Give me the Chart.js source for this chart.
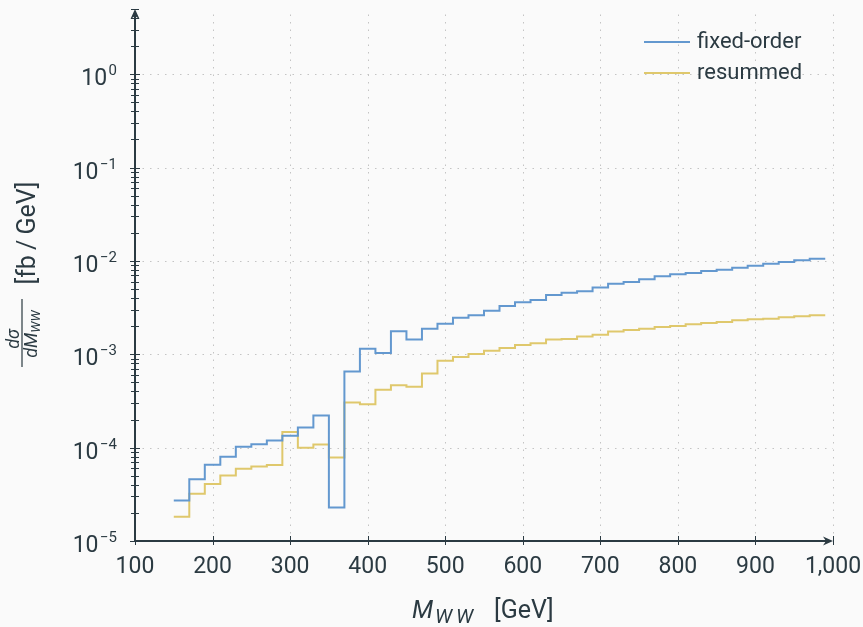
<!DOCTYPE html>
<html>
<head>
<meta charset="utf-8">
<script src="https://cdn.jsdelivr.net/npm/chart.js@4.4.1/dist/chart.umd.min.js"></script>
<style>
html,body{margin:0;padding:0;background:#fafafa;}
canvas{display:block;}
</style>
</head>
<body>
<canvas id="c" width="863" height="627"></canvas>
<script>
// ---- data (bin edges in GeV, values in fb/GeV) ----
const binEdges = [150,170,190,210,230,250,270,290,310,330,350,370,390,410,430,450,470,490,510,530,550,570,590,610,630,650,670,690,710,730,750,770,790,810,830,850,870,890,910,930,950,970,990];
const fixedOrder = [2.72e-5,4.60e-5,6.55e-5,7.98e-5,1.02e-4,1.09e-4,1.19e-4,1.34e-4,1.64e-4,2.21e-4,2.29e-5,6.53e-4,1.15e-3,1.03e-3,1.77e-3,1.44e-3,1.88e-3,2.13e-3,2.47e-3,2.62e-3,2.93e-3,3.29e-3,3.61e-3,3.82e-3,4.32e-3,4.57e-3,4.73e-3,5.20e-3,5.69e-3,5.95e-3,6.35e-3,6.84e-3,7.19e-3,7.43e-3,7.80e-3,8.05e-3,8.46e-3,8.89e-3,9.33e-3,9.73e-3,1.016e-2,1.057e-2];
const resummed = [1.82e-5,3.21e-5,4.07e-5,5.04e-5,5.94e-5,6.29e-5,6.51e-5,1.47e-4,9.96e-5,1.08e-4,7.85e-5,3.04e-4,2.91e-4,4.16e-4,4.67e-4,4.48e-4,6.21e-4,8.55e-4,9.37e-4,1.01e-3,1.09e-3,1.17e-3,1.26e-3,1.31e-3,1.44e-3,1.46e-3,1.55e-3,1.62e-3,1.75e-3,1.82e-3,1.88e-3,1.96e-3,2.01e-3,2.10e-3,2.17e-3,2.22e-3,2.32e-3,2.37e-3,2.41e-3,2.49e-3,2.55e-3,2.62e-3];
const seriesNames = ['fixed-order','resummed'];
const xTickValues = [100,200,300,400,500,600,700,800,900,1000];
const xTickLabels = ['100','200','300','400','500','600','700','800','900','1,000'];
const yTickExponents = [-5,-4,-3,-2,-1,0];
const yMinorMultipliers = [2,3,4,5,6,7,8,9];

// ---- style ----
const F = 'Roboto, "Open Sans", "DejaVu Sans", sans-serif';
const INK = '#2b3a42';
const BLUE = '#6398cf';
const YELLOW = '#dfc86c';

function stepPoints(vals){
  const pts = vals.map((v,i)=>({x:binEdges[i], y:v}));
  pts.push({x:binEdges[binEdges.length-1], y:vals[vals.length-1]});
  return pts;
}

function drawArrow(ctx, tx, ty, dir){
  ctx.save();
  ctx.translate(tx, ty);
  if (dir === 'up') ctx.rotate(-Math.PI/2);
  ctx.beginPath();
  ctx.moveTo(0,0);
  ctx.lineTo(-10,-4.5);
  ctx.lineTo(-7,0);
  ctx.lineTo(-10,4.5);
  ctx.closePath();
  ctx.fill();
  ctx.restore();
}

const deco = {
  id:'deco',
  beforeDraw(chart){
    const c = chart.ctx;
    c.save(); c.fillStyle='#fafafa'; c.fillRect(0,0,chart.width,chart.height); c.restore();
  },
  beforeDatasetsDraw(chart){
    const {ctx, chartArea:a, scales:{x,y}} = chart;
    ctx.save();
    ctx.strokeStyle='#c4c4c4'; ctx.lineWidth=1; ctx.setLineDash([1.5,6]);
    xTickValues.forEach(v=>{
      if (v===x.min) return;
      const px = Math.round(x.getPixelForValue(v))+0.5;
      ctx.beginPath(); ctx.moveTo(px,a.bottom); ctx.lineTo(px,a.top); ctx.stroke();
    });
    yTickExponents.forEach(e=>{
      const v = Math.pow(10,e);
      if (v<=y.min*1.0001) return;
      const py = Math.round(y.getPixelForValue(v))+0.5;
      ctx.beginPath(); ctx.moveTo(a.left,py); ctx.lineTo(a.right,py); ctx.stroke();
    });
    ctx.restore();
  },
  afterDatasetsDraw(chart){
    const {ctx, chartArea:a, scales:{x,y}} = chart;
    ctx.save();
    ctx.strokeStyle=INK; ctx.fillStyle=INK;
    ctx.lineWidth=1;
    xTickValues.forEach(v=>{
      const px = Math.round(x.getPixelForValue(v))+0.5;
      ctx.beginPath(); ctx.moveTo(px,a.bottom-5); ctx.lineTo(px,a.bottom+4); ctx.stroke();
    });
    yTickExponents.forEach(e=>{
      const py = Math.round(y.getPixelForValue(Math.pow(10,e)))+0.5;
      ctx.beginPath(); ctx.moveTo(a.left-5,py); ctx.lineTo(a.left+5,py); ctx.stroke();
      yMinorMultipliers.forEach(m=>{
        const v = m*Math.pow(10,e);
        if (v>y.max*1.0001) return;
        const pm = Math.round(y.getPixelForValue(v))+0.5;
        ctx.beginPath(); ctx.moveTo(a.left-4,pm); ctx.lineTo(a.left+4,pm); ctx.stroke();
      });
    });
    ctx.lineWidth=2;
    ctx.beginPath(); ctx.moveTo(a.left,a.bottom); ctx.lineTo(a.right-6,a.bottom); ctx.stroke();
    ctx.beginPath(); ctx.moveTo(a.left,a.bottom); ctx.lineTo(a.left,a.top+6); ctx.stroke();
    drawArrow(ctx, a.right, a.bottom, 'right');
    drawArrow(ctx, a.left, a.top, 'up');

    // x tick labels
    ctx.font = '23px '+F; ctx.textAlign='center'; ctx.textBaseline='alphabetic';
    xTickValues.forEach((v,i)=>{
      ctx.fillText(xTickLabels[i], x.getPixelForValue(v), 573);
    });
    // y tick labels
    yTickExponents.forEach(e=>{
      const py = y.getPixelForValue(Math.pow(10,e));
      const sup = e<0 ? '\u2212'+Math.abs(e) : String(e);
      ctx.font = '15px '+F;
      const sw = ctx.measureText(sup).width;
      ctx.textAlign='left';
      ctx.fillText(sup, 117-sw, py+1);
      ctx.font = '23px '+F; ctx.textAlign='right';
      ctx.fillText('10', 117-sw-1.5, py+11);
    });

    // x title: M_WW [GeV]
    const xc = (a.left+a.right)/2;
    ctx.textAlign='left';
    ctx.font = 'italic 25px '+F; ctx.fillText('M', xc-72, 618);
    ctx.font = 'italic 20px '+F;
    ctx.fillText('W', xc-49, 623);
    ctx.fillText('W', xc-28, 623);
    ctx.font = '25px '+F; ctx.fillText('[GeV]', xc+10, 618);

    // y title (rotated)
    ctx.save();
    ctx.translate(22, 333);
    ctx.rotate(-Math.PI/2);
    ctx.fillRect(-34, -0.6, 68, 1.2);
    ctx.font = 'italic 18px '+F; ctx.textAlign='center';
    ctx.fillText('d\u03c3', -6, -3);
    ctx.font = 'italic 18px '+F;
    const dW = ctx.measureText('dM').width;
    ctx.font = 'italic 13px '+F;
    const sW = ctx.measureText('WW').width;
    let sx = -1 - (dW+sW)/2;
    ctx.textAlign='left';
    ctx.font = 'italic 18px '+F; ctx.fillText('dM', sx, 15);
    ctx.font = 'italic 13px '+F; ctx.fillText('WW', sx+dW, 18);
    ctx.font = '25px '+F; ctx.textAlign='center';
    ctx.fillText('[fb\u2009/\u2009GeV]', 100, 13);
    ctx.restore();

    // legend
    const colors = [BLUE, YELLOW];
    const rows = [42, 73];
    seriesNames.forEach((n,i)=>{
      ctx.strokeStyle = colors[i]; ctx.lineWidth=2;
      ctx.beginPath(); ctx.moveTo(644, rows[i]); ctx.lineTo(690, rows[i]); ctx.stroke();
      ctx.fillStyle = INK; ctx.font='22px '+F; ctx.textAlign='left';
      ctx.fillText(n, 697, rows[i]+6);
    });
    ctx.restore();
  }
};

new Chart(document.getElementById('c'), {
  type:'line',
  data:{
    datasets:[
      {label:seriesNames[0], data:stepPoints(fixedOrder), borderColor:BLUE, borderWidth:2, pointRadius:0, stepped:'before', fill:false},
      {label:seriesNames[1], data:stepPoints(resummed), borderColor:YELLOW, borderWidth:2, pointRadius:0, stepped:'before', fill:false}
    ]
  },
  options:{
    responsive:false,
    animation:false,
    layout:{padding:{left:135, right:30, top:9, bottom:86}},
    plugins:{legend:{display:false}, tooltip:{enabled:false}},
    scales:{
      x:{type:'linear', min:100, max:1000, ticks:{display:false, stepSize:100}, grid:{display:false}, border:{display:false},
         afterFit(s){ s.height = 0; }},
      y:{type:'logarithmic', min:1e-5, max:5, ticks:{display:false}, grid:{display:false}, border:{display:false},
         afterFit(s){ s.width = 0; }}
    }
  },
  plugins:[deco]
});
</script>
</body>
</html>
